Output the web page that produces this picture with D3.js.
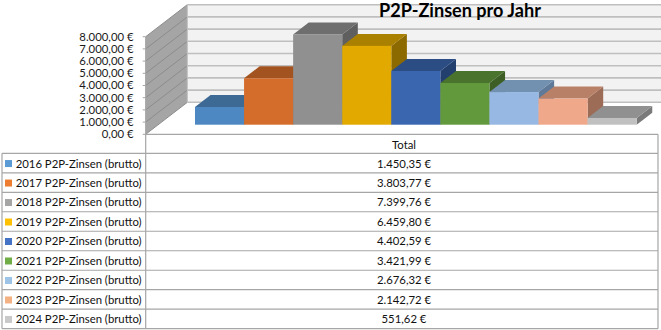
<!DOCTYPE html>
<html><head><meta charset="utf-8">
<script src="https://cdn.jsdelivr.net/npm/d3@7"></script>
<style>html,body{margin:0;padding:0;background:#fff;}svg{display:block;}</style>
</head><body>
<svg id="chart" width="661" height="330"></svg>
<script>
const title = "P2P-Zinsen pro Jahr";
const category = "Total";
const seriesNames = ["2016 P2P-Zinsen (brutto)","2017 P2P-Zinsen (brutto)","2018 P2P-Zinsen (brutto)","2019 P2P-Zinsen (brutto)","2020 P2P-Zinsen (brutto)","2021 P2P-Zinsen (brutto)","2022 P2P-Zinsen (brutto)","2023 P2P-Zinsen (brutto)","2024 P2P-Zinsen (brutto)"];
const values = [1450.35, 3803.77, 7399.76, 6459.80, 4402.59, 3421.99, 2676.32, 2142.72, 551.62];
const tickValues = [0,1000,2000,3000,4000,5000,6000,7000,8000];
const frontColors = ["#4e88c2","#d46d2c","#909090","#e2aa00","#3a66b0","#62993d","#96b8e2","#f0a88a","#c0c0c0"];
const topColors   = ["#3d6a94","#a2531f","#6e6e6e","#aa8000","#2c4d84","#4a732e","#7290b0","#b98068","#909090"];
const sideColors  = ["#33597d","#8a461a","#5f5f5f","#8c6a00","#233f6e","#3d5f25","#5f7a98","#9c6c57","#7a7a7a"];
const legendColors = ["#5b9bd5","#ed7d31","#a5a5a5","#ffc000","#4472c4","#70ad47","#9dc3e6","#f4b183","#c9c9c9"];

const svg = d3.select("#chart");
const FONT = "Lato, 'Open Sans', sans-serif";
const loc = d3.formatLocale({decimal:",", thousands:".", grouping:[3], currency:["", " €"]});
const fmt = loc.format("$,.2f");

// geometry
const axisX = 145.7, tableRight = 658, tableLeft = 2;
const depth = {dx: 41.6, dy: -32};
const y = d3.scaleLinear().domain([0, 8000]).range([134.3, 36.7]);
const x = d3.scaleBand().domain(seriesNames).range([182.5, 624.2]).padding(0);
const z0 = 0.3, z1 = 0.675;
const off = (px, py, z) => [px + depth.dx * z, py + depth.dy * z];

// fit fonts
function fitSize(text, target, weight) {
  const t = svg.append("text").attr("font-family", FONT).attr("font-size", 20).attr("font-weight", weight || "normal").text(text);
  const w = t.node().getComputedTextLength(); t.remove();
  return 20 * target / w;
}
const fsTable = fitSize(seriesNames[0], 126);
const fsTitle = fitSize(title, 162, "bold");

// back wall
const bx0 = axisX + depth.dx, by0 = y(8000) + depth.dy, by1 = y(0) + depth.dy;
svg.append("rect").attr("x", bx0).attr("y", by0).attr("width", 661 - bx0 + 50).attr("height", by1 - by0).attr("fill", "#f2f2f2");
// floor
svg.append("polygon").attr("points", [[axisX, y(0)], [bx0, by1], [tableRight + depth.dx, by1], [tableRight, y(0)]].join(" ")).attr("fill", "#ffffff");
// left wall
svg.append("polygon").attr("points", [[axisX, y(8000)], [bx0, by0], [bx0, by1], [axisX, y(0)]].join(" ")).attr("fill", "#a5a5a5");

// gridlines
tickValues.forEach(v => {
  const fy = y(v), [bx, byy] = off(axisX, fy, 1);
  svg.append("line").attr("x1", axisX).attr("y1", fy).attr("x2", bx).attr("y2", byy).attr("stroke", "#8c8c8c").attr("stroke-width", 1);
  svg.append("line").attr("x1", bx).attr("y1", byy).attr("x2", 700).attr("y2", byy).attr("stroke", "#bfbfbf").attr("stroke-width", 1.6);
});
svg.append("line").attr("x1", bx0).attr("y1", by0).attr("x2", bx0).attr("y2", by1).attr("stroke", "#bfbfbf").attr("stroke-width", 1);

// bars
seriesNames.forEach((s, i) => {
  const v = values[i];
  const xa = x(s), xb = x(s) + x.bandwidth(), yt = y(v), yb = y(0);
  const g = svg.append("g");
  g.append("polygon").attr("points", [off(xb, yt, z0), off(xb, yt, z1), off(xb, yb, z1), off(xb, yb, z0)].join(" ")).attr("fill", sideColors[i]);
  g.append("polygon").attr("points", [off(xa, yt, z0), off(xb, yt, z0), off(xb, yt, z1), off(xa, yt, z1)].join(" ")).attr("fill", topColors[i]);
  const [fx, fy] = off(xa, yt, z0);
  g.append("rect").attr("x", fx).attr("y", fy).attr("width", x.bandwidth()).attr("height", yb - yt).attr("fill", frontColors[i]);
});

// axis line and ticks and labels
const lineCol = "#a6a6a6";
svg.append("line").attr("x1", axisX).attr("y1", y(8000)).attr("x2", axisX).attr("y2", 328.7).attr("stroke", lineCol).attr("stroke-width", 1.2);
tickValues.forEach(v => {
  svg.append("line").attr("x1", axisX - 3).attr("x2", axisX).attr("y1", y(v)).attr("y2", y(v)).attr("stroke", lineCol);
  svg.append("text").attr("x", 133.5).attr("y", y(v)).attr("dy", "0.35em").attr("text-anchor", "end")
    .attr("font-family", FONT).attr("font-size", fsTable).attr("fill", "#1a1a1a").text(fmt(v));
});

// title
svg.append("text").attr("x", 460).attr("y", 16.8).attr("text-anchor", "middle").attr("font-family", FONT)
  .attr("font-weight", "bold").attr("font-size", fsTitle).attr("fill", "#000").text(title);

// data table
const headTop = 134.3, rowTop = 153.3, rowBottom = 328.7;
const rowH = (rowBottom - rowTop) / seriesNames.length;
const colCenter = 404;
const tl = (x1, y1, x2, y2) => svg.append("line").attr("x1", x1).attr("y1", y1).attr("x2", x2).attr("y2", y2).attr("stroke", lineCol).attr("stroke-width", 1.2);
tl(axisX, headTop, tableRight, headTop);
tl(tableRight, headTop, tableRight, rowBottom);
tl(tableLeft, rowTop, tableLeft, rowBottom);
for (let i = 0; i <= seriesNames.length; i++) tl(tableLeft, rowTop + i * rowH, tableRight, rowTop + i * rowH);
svg.append("text").attr("x", colCenter).attr("y", (headTop + rowTop) / 2 + 1).attr("dy", "0.35em").attr("text-anchor", "middle")
  .attr("font-family", FONT).attr("font-size", fsTable).attr("fill", "#111").text(category);
seriesNames.forEach((s, i) => {
  const cy = rowTop + (i + 0.5) * rowH + 0.5;
  svg.append("rect").attr("x", 5).attr("y", cy - 3.5).attr("width", 7).attr("height", 7).attr("fill", legendColors[i]);
  svg.append("text").attr("x", 15.7).attr("y", cy).attr("dy", "0.35em").attr("font-family", FONT).attr("font-size", fsTable).attr("fill", "#111").text(s);
  svg.append("text").attr("x", colCenter).attr("y", cy).attr("dy", "0.35em").attr("text-anchor", "middle").attr("font-family", FONT).attr("font-size", fsTable).attr("fill", "#111").text(fmt(values[i]));
});
</script>
</body></html>
